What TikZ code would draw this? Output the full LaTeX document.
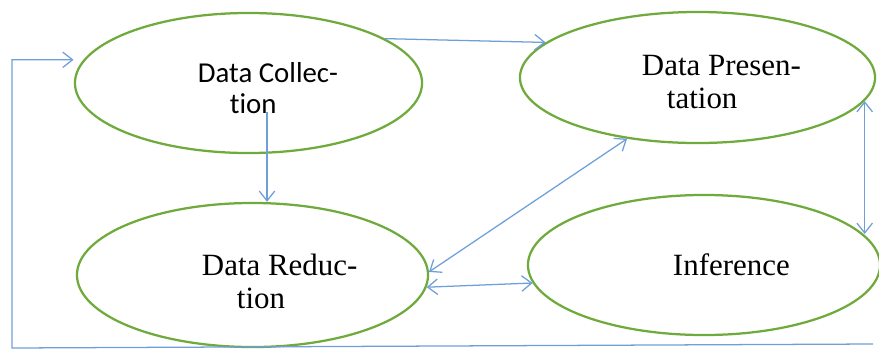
\documentclass[tikz,border=0pt]{standalone}
\usepackage{fontspec}
\setmainfont{Liberation Serif}
\newfontfamily\calfont[Ligatures=NoCommon]{Carlito}
\usepackage{tikz}
\usetikzlibrary{shapes.geometric, arrows.meta}
\definecolor{ovalgreen}{HTML}{6EAA3C}
\definecolor{linkblue}{HTML}{6F9FD8}
\tikzstyle{stage} = [ellipse, draw=ovalgreen, line width=1.6pt, inner sep=0pt]
\tikzstyle{arrow} = [draw=linkblue, line width=0.9pt, ->, >={Straight Barb[length=7pt,width=11pt]}]
\tikzstyle{twoway} = [draw=linkblue, line width=0.9pt, <->, >={Straight Barb[length=7pt,width=11pt]}]

\begin{document}
\begin{tikzpicture}[x=0.025cm, y=-0.025cm]
        \useasboundingbox (0,0) rectangle (879,350);
        % Node positions
        \node[stage, minimum width=8.675cm, minimum height=3.5cm] (dc) at (248.5,83) {};
        \node[stage, minimum width=8.875cm, minimum height=3.275cm] (dp) at (697.5,77.5) {};
        \node[stage, minimum width=8.775cm, minimum height=3.6cm] (dr) at (252.5,275) {};
        \node[stage, minimum width=8.8cm, minimum height=3.5cm] (inf) at (704,265) {};

        % Labels (anchored at the baseline of the last line)
        \node[anchor=base west, align=left, font=\calfont\fontsize{20.5}{22}\selectfont] (dctext) at (193,113) {Data Collec-\\\hspace*{0.8cm}tion};
        \node[anchor=base west, align=left, font=\fontsize{22}{23.4}\selectfont] (dptext) at (637,108) {Data Presen-\\\hspace*{0.625cm}tation};
        \node[anchor=base west, align=left, font=\fontsize{22}{23.4}\selectfont] (drtext) at (197,308) {Data Reduc-\\\hspace*{0.875cm}tion};
        \node[anchor=base west, font=\fontsize{22}{23.4}\selectfont] (inftext) at (668,275) {Inference};

        \coordinate (dcstub) at (267,112);
        \coordinate (fbstart) at (873,344);
        \coordinate (fbcorner) at (12,348);

        \draw[arrow] (dc.18) -- (dp.167);
        \draw[arrow] (dcstub) -- (dcstub |- dr.north);
        \draw[twoway] (dr.1) -- (dp.221);
        \draw[twoway] (dr.-4) -- (inf.186);
        \draw[twoway] (dp.-8) -- (dp.-8 |- inf.11);
        \draw[arrow, shorten >=7pt] (fbstart) -- (fbcorner) |- (dc.172);
      \end{tikzpicture}
\end{document}
